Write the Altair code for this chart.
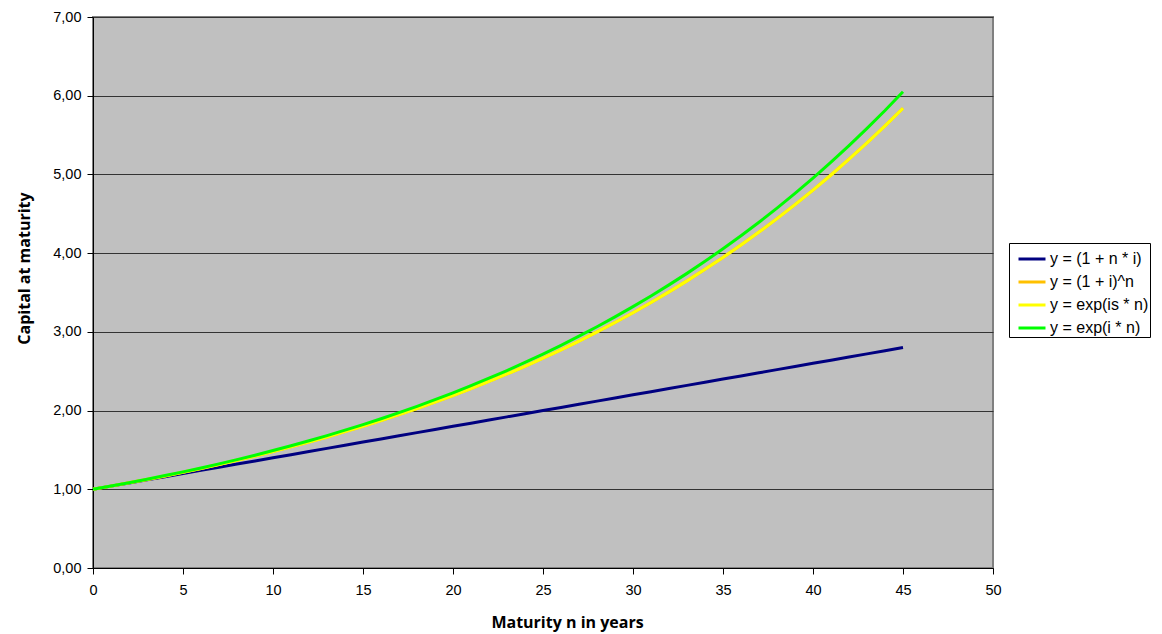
import altair as alt
import pandas as pd

years = list(range(0, 46))
simple = [1.00, 1.04, 1.08, 1.12, 1.16, 1.20, 1.24, 1.28, 1.32, 1.36,
          1.40, 1.44, 1.48, 1.52, 1.56, 1.60, 1.64, 1.68, 1.72, 1.76,
          1.80, 1.84, 1.88, 1.92, 1.96, 2.00, 2.04, 2.08, 2.12, 2.16,
          2.20, 2.24, 2.28, 2.32, 2.36, 2.40, 2.44, 2.48, 2.52, 2.56,
          2.60, 2.64, 2.68, 2.72, 2.76, 2.80]
compound = [1.000, 1.040, 1.082, 1.125, 1.170, 1.217, 1.265, 1.316, 1.369, 1.423,
            1.480, 1.539, 1.601, 1.665, 1.732, 1.801, 1.873, 1.948, 2.026, 2.107,
            2.191, 2.279, 2.370, 2.465, 2.563, 2.666, 2.772, 2.883, 2.999, 3.119,
            3.243, 3.373, 3.508, 3.648, 3.794, 3.946, 4.104, 4.268, 4.439, 4.616,
            4.801, 4.993, 5.193, 5.400, 5.617, 5.841]
exp_is = [1.000, 1.040, 1.082, 1.125, 1.170, 1.217, 1.265, 1.316, 1.369, 1.423,
          1.480, 1.539, 1.601, 1.665, 1.732, 1.801, 1.873, 1.948, 2.026, 2.107,
          2.191, 2.279, 2.370, 2.465, 2.563, 2.666, 2.772, 2.883, 2.999, 3.119,
          3.243, 3.373, 3.508, 3.648, 3.794, 3.946, 4.104, 4.268, 4.439, 4.616,
          4.801, 4.993, 5.193, 5.400, 5.617, 5.841]
exp_i = [1.000, 1.041, 1.083, 1.127, 1.174, 1.221, 1.271, 1.323, 1.377, 1.433,
         1.492, 1.553, 1.616, 1.682, 1.751, 1.822, 1.896, 1.974, 2.054, 2.138,
         2.226, 2.316, 2.411, 2.509, 2.612, 2.718, 2.829, 2.945, 3.065, 3.190,
         3.320, 3.456, 3.597, 3.743, 3.896, 4.055, 4.221, 4.393, 4.572, 4.759,
         4.953, 5.155, 5.366, 5.585, 5.812, 6.050]

series_names = ["y = (1 + n * i)", "y = (1 + i)^n", "y = exp(is * n)", "y = exp(i * n)"]
series_values = [simple, compound, exp_is, exp_i]
series_colors = ["#000080", "#FFC000", "#FFFF00", "#00FF00"]
series_widths = [3, 3, 1.5, 3]
x_ticks = list(range(0, 51, 5))
y_ticks = list(range(0, 8))

rows = []
for name, vals in zip(series_names, series_values):
    for n, v in zip(years, vals):
        rows.append({"n": n, "value": v, "series": name})
df = pd.DataFrame(rows)

FONT = "Liberation Sans"
TITLE_FONT = "Open Sans"

base = alt.Chart(df).mark_line(strokeCap="butt").encode(
    x=alt.X("n:Q", scale=alt.Scale(domain=[0, 50], nice=False),
            axis=alt.Axis(values=x_ticks, title="Maturity n in years", grid=False,
                          labelFontSize=14.5, labelFlush=False,
                          titleFontSize=16, titleFontWeight="bold", titleFont=TITLE_FONT,
                          titleX=474, titleY=54, titleAlign="center", titleBaseline="middle",
                          tickSize=6, labelPadding=9,
                          domainColor="#000000", tickColor="#000000")),
    y=alt.Y("value:Q", scale=alt.Scale(domain=[0, 7], nice=False),
            axis=alt.Axis(values=y_ticks, title="Capital at maturity",
                          labelExpr="replace(format(datum.value, '.2f'), '.', ',')",
                          labelFontSize=14.5, labelFlush=False,
                          titleFontSize=16, titleFontWeight="bold", titleFont=TITLE_FONT,
                          titleX=-69, titleY=251, titleAngle=270,
                          titleAlign="center", titleBaseline="middle",
                          tickSize=6, labelPadding=6,
                          grid=True, gridColor="#333333", gridWidth=1,
                          domainColor="#000000", tickColor="#000000")),
    color=alt.Color("series:N",
                    scale=alt.Scale(domain=series_names, range=series_colors),
                    sort=series_names,
                    legend=alt.Legend(title=None, orient="none", legendX=916, legendY=226,
                                      symbolType="M-1,0L1,0", symbolSize=729,
                                      symbolOffset=7,
                                      labelFontSize=16, rowPadding=0,
                                      fillColor="white", strokeColor="black",
                                      padding=1, labelOffset=3)),
    strokeWidth=alt.StrokeWidth("series:N",
                                scale=alt.Scale(domain=series_names, range=series_widths),
                                sort=series_names,
                                legend=None),
)

layers = [base.transform_filter(alt.datum.series == name) for name in series_names]

chart = alt.layer(*layers).properties(
    width=900, height=551,
    padding={"left": 85, "top": 9, "right": 161, "bottom": 64},
    autosize=alt.AutoSizeParams(type="none"),
    background="white",
).configure_view(
    fill="#C0C0C0", stroke="#808080", strokeWidth=2
).configure_axis(
    labelFont=FONT, labelColor="#000000", titleColor="#000000"
).configure_legend(
    labelFont=FONT, labelColor="#000000"
)

chart.save("out.html", embed_options={"renderer": "svg", "actions": False})
